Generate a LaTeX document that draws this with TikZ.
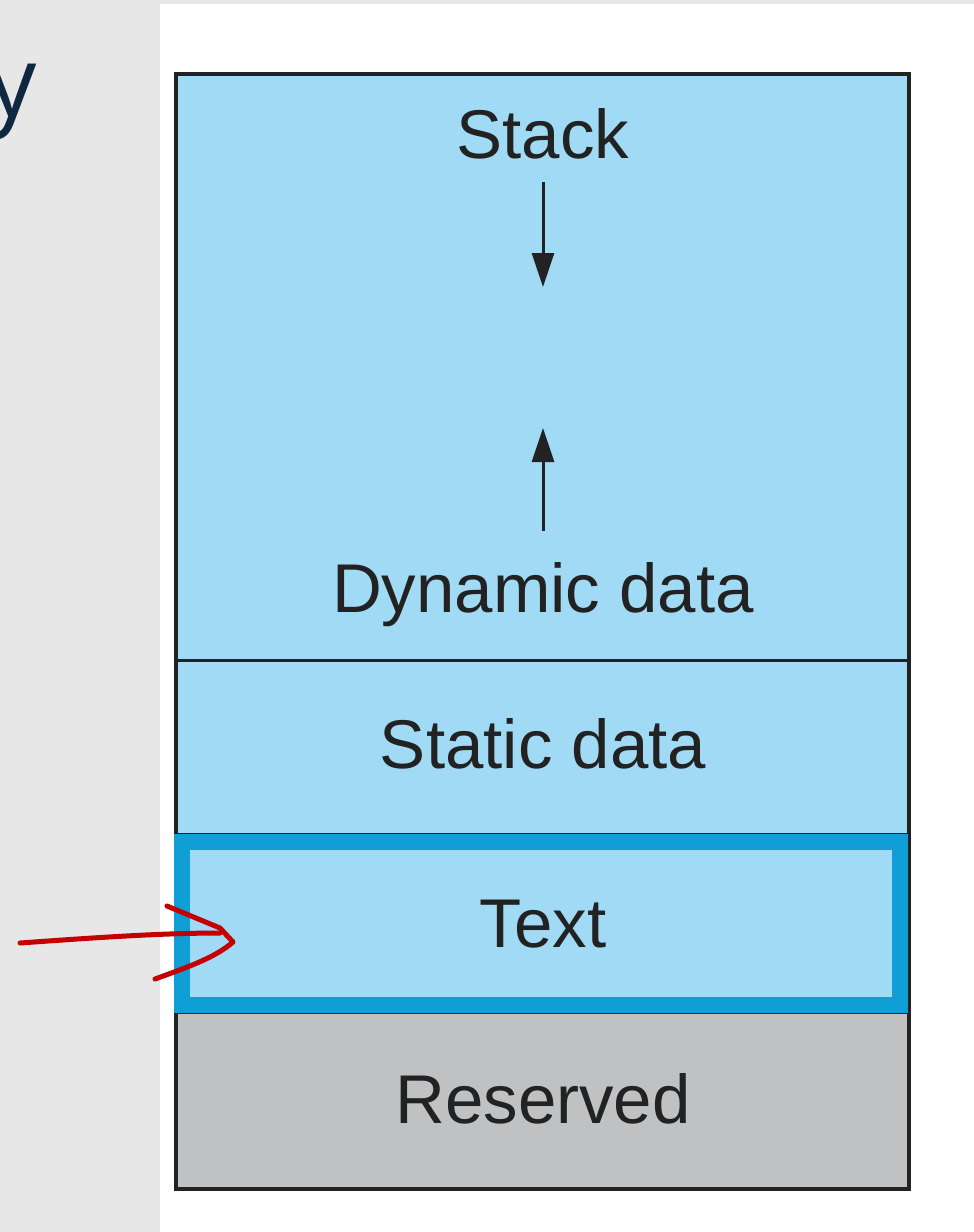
\documentclass[tikz,border=0pt]{standalone}
\usepackage{fontspec}
\setmainfont{Liberation Sans}
\newfontfamily\titlefont{Open Sans}
\usetikzlibrary{arrows.meta}
\definecolor{panelgray}{HTML}{E7E7E7}
\definecolor{segblue}{HTML}{A1DAF5}
\definecolor{hiblue}{HTML}{0F9FD6}
\definecolor{resgray}{HTML}{C0C1C3}
\definecolor{framedark}{HTML}{222222}
\definecolor{inkred}{HTML}{C40000}
\definecolor{navy}{HTML}{0E2841}
\tikzset{
  seglabel/.style={font=\fontsize{69}{69}\selectfont, text=framedark, inner sep=0pt, anchor=base},
  growarrow/.style={line width=3pt, draw=framedark, -{Triangle[length=34pt,width=22pt]}},
  frameline/.style={draw=framedark, line width=4pt},
  redink/.style={draw=inkred, line width=5pt, line cap=round, line join=round}
}
\begin{document}
\begin{tikzpicture}[x=1pt,y=-1pt]
\useasboundingbox (0,0) rectangle (974,1232);
% backgrounds
\fill[panelgray] (0,0) rectangle (974,1232);
\fill[white] (160,4) rectangle (974,1232);
\node[font=\titlefont\fontsize{98}{98}\selectfont, text=navy, anchor=base east, inner sep=0pt] (title) at (37,116) {y};
% segment fills
\fill[segblue] (176,74) rectangle (909,834);
\fill[resgray] (176,1013) rectangle (909,1189);
% frame and dividers
\draw[frameline] (176,74) rectangle (909,1189);
\draw[draw=framedark, line width=3pt] (176,660) -- (909,660);
\draw[draw=framedark, line width=2pt] (176,834) -- (909,834);
\draw[draw=framedark, line width=2pt] (176,1013) -- (909,1013);
% highlighted text segment
\draw[draw=hiblue, fill=segblue, line width=16pt] (182,842) rectangle (900,1005);
% labels
\node[seglabel] (stack) at (543,158) {Stack};
\node[seglabel] (dyn) at (543,612) {Dynamic data};
\node[seglabel] (static) at (543,768) {Static data};
\node[seglabel] (text) at (543,947) {Text};
\node[seglabel] (res) at (543,1123) {Reserved};
% growth arrows
\coordinate (stacktip) at (543,287);
\coordinate (heaptip) at (543,428);
\draw[growarrow] (543,182) -- (stacktip);
\draw[growarrow] (543,531) -- (heaptip);
% red hand-drawn arrow
\coordinate (redstart) at (20,943);
\coordinate (redtip) at (233,942);
\draw[redink] (redstart) .. controls (90,938) and (160,933) .. (220,933);
\draw[redink] (167,906) -- (220,928) -- (redtip) .. controls (215,958) and (185,968) .. (155,979);
\end{tikzpicture}
\end{document}
